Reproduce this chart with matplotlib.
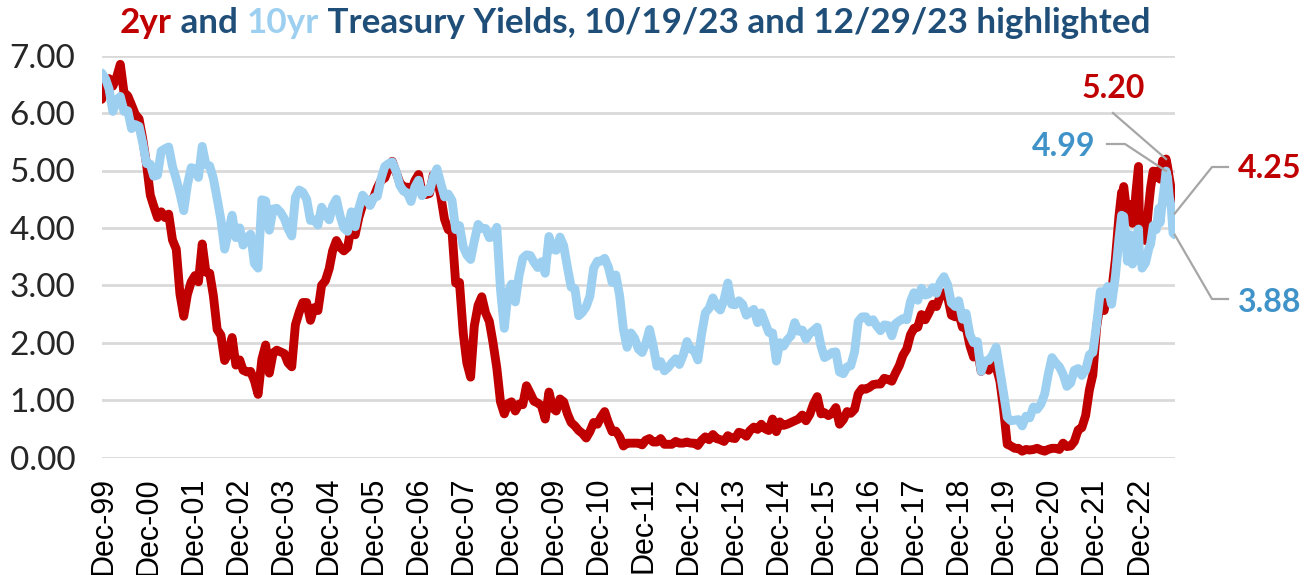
import numpy as np
import pandas as pd
import matplotlib
matplotlib.use('Agg')
import matplotlib.pyplot as plt
import matplotlib.dates as mdates
from matplotlib.lines import Line2D

# ---------------- data ----------------
# month-end observations Dec-1999 .. Sep-2022
try:
    monthly_dates = pd.date_range('1999-12-31', '2022-09-30', freq='ME')
except Exception:
    monthly_dates = pd.date_range('1999-12-31', '2022-09-30', freq='M')

yr2_monthly = [
    6.24,
    6.58, 6.60, 6.47, 6.62, 6.85, 6.36, 6.30, 6.14, 5.98, 5.90, 5.55, 5.11,   # 2000
    4.57, 4.38, 4.18, 4.28, 4.18, 4.24, 3.79, 3.63, 2.85, 2.46, 2.84, 3.06,   # 2001
    3.17, 3.06, 3.72, 3.23, 3.21, 2.82, 2.23, 2.13, 1.69, 1.82, 2.09, 1.61,   # 2002
    1.70, 1.52, 1.49, 1.50, 1.34, 1.10, 1.71, 1.96, 1.47, 1.82, 1.87, 1.84,   # 2003
    1.81, 1.65, 1.58, 2.31, 2.53, 2.70, 2.70, 2.39, 2.61, 2.56, 3.00, 3.08,   # 2004
    3.29, 3.60, 3.78, 3.66, 3.60, 3.66, 4.02, 3.88, 4.18, 4.40, 4.43, 4.41,   # 2005
    4.54, 4.70, 4.83, 4.87, 5.04, 5.16, 4.97, 4.79, 4.71, 4.71, 4.62, 4.82,   # 2006
    4.93, 4.62, 4.58, 4.60, 4.92, 4.87, 4.56, 4.15, 3.97, 3.94, 3.04, 3.05,   # 2007
    2.16, 1.65, 1.40, 2.29, 2.65, 2.80, 2.52, 2.37, 2.00, 1.56, 0.97, 0.76,   # 2008
    0.94, 0.97, 0.81, 0.93, 0.92, 1.25, 1.12, 0.98, 0.95, 0.90, 0.67, 1.14,   # 2009
    0.86, 0.81, 1.02, 0.97, 0.76, 0.61, 0.55, 0.47, 0.42, 0.34, 0.45, 0.61,   # 2010
    0.58, 0.70, 0.80, 0.61, 0.45, 0.46, 0.36, 0.20, 0.25, 0.25, 0.25, 0.25,   # 2011
    0.22, 0.30, 0.33, 0.27, 0.27, 0.33, 0.23, 0.23, 0.23, 0.28, 0.25, 0.25,   # 2012
    0.27, 0.25, 0.25, 0.21, 0.30, 0.36, 0.31, 0.40, 0.33, 0.31, 0.28, 0.38,   # 2013
    0.34, 0.33, 0.44, 0.42, 0.37, 0.47, 0.53, 0.49, 0.58, 0.50, 0.47, 0.67,   # 2014
    0.45, 0.62, 0.56, 0.58, 0.61, 0.64, 0.67, 0.74, 0.64, 0.75, 0.93, 1.06,   # 2015
    0.76, 0.78, 0.73, 0.77, 0.87, 0.58, 0.66, 0.80, 0.77, 0.84, 1.11, 1.20,   # 2016
    1.19, 1.22, 1.27, 1.28, 1.28, 1.38, 1.36, 1.33, 1.47, 1.60, 1.78, 1.89,   # 2017
    2.14, 2.25, 2.27, 2.49, 2.40, 2.52, 2.67, 2.63, 2.81, 2.87, 2.80, 2.48,   # 2018
    2.45, 2.52, 2.27, 2.27, 1.95, 1.75, 1.89, 1.50, 1.63, 1.52, 1.61, 1.58,   # 2019
    1.33, 0.86, 0.23, 0.20, 0.16, 0.16, 0.11, 0.14, 0.13, 0.14, 0.16, 0.13,   # 2020
    0.11, 0.14, 0.16, 0.16, 0.14, 0.25, 0.19, 0.20, 0.28, 0.48, 0.52, 0.73,   # 2021
    1.18, 1.44, 2.28, 2.70, 2.56, 2.92, 2.88, 3.45, 4.22,                     # 2022
]

yr10_monthly = [
    6.70,
    6.60, 6.42, 6.03, 6.23, 6.29, 6.03, 6.04, 5.73, 5.80, 5.77, 5.48, 5.12,   # 2000
    5.11, 4.90, 4.92, 5.34, 5.38, 5.41, 5.07, 4.85, 4.60, 4.30, 4.75, 5.05,   # 2001
    5.03, 4.88, 5.42, 5.10, 5.08, 4.86, 4.51, 4.14, 3.63, 3.93, 4.22, 3.83,   # 2002
    4.00, 3.70, 3.83, 3.89, 3.38, 3.30, 4.49, 4.47, 3.96, 4.33, 4.34, 4.27,   # 2003
    4.16, 3.99, 3.86, 4.53, 4.66, 4.62, 4.50, 4.13, 4.14, 4.05, 4.36, 4.24,   # 2004
    4.14, 4.38, 4.50, 4.21, 4.00, 3.94, 4.28, 4.02, 4.34, 4.57, 4.49, 4.39,   # 2005
    4.53, 4.55, 4.86, 5.07, 5.12, 5.15, 4.99, 4.74, 4.64, 4.61, 4.46, 4.71,   # 2006
    4.83, 4.56, 4.65, 4.63, 4.89, 5.03, 4.78, 4.54, 4.59, 4.48, 3.97, 4.04,   # 2007
    3.67, 3.53, 3.45, 3.77, 4.06, 3.99, 3.99, 3.83, 3.85, 4.01, 2.93, 2.25,   # 2008
    2.87, 3.02, 2.71, 3.16, 3.47, 3.53, 3.52, 3.40, 3.31, 3.41, 3.21, 3.85,   # 2009
    3.63, 3.61, 3.84, 3.69, 3.31, 2.97, 2.94, 2.47, 2.53, 2.63, 2.81, 3.30,   # 2010
    3.42, 3.42, 3.47, 3.32, 3.05, 3.18, 2.82, 2.23, 1.92, 2.17, 2.08, 1.89,   # 2011
    1.83, 1.98, 2.23, 1.95, 1.59, 1.67, 1.51, 1.57, 1.65, 1.72, 1.62, 1.78,   # 2012
    2.02, 1.89, 1.87, 1.70, 2.16, 2.52, 2.60, 2.78, 2.64, 2.57, 2.75, 3.04,   # 2013
    2.67, 2.66, 2.73, 2.67, 2.48, 2.53, 2.58, 2.35, 2.52, 2.35, 2.18, 2.17,   # 2014
    1.68, 2.00, 1.94, 2.05, 2.12, 2.35, 2.20, 2.22, 2.06, 2.16, 2.21, 2.27,   # 2015
    1.94, 1.74, 1.78, 1.83, 1.84, 1.49, 1.46, 1.58, 1.60, 1.84, 2.37, 2.45,   # 2016
    2.45, 2.36, 2.40, 2.29, 2.21, 2.31, 2.30, 2.12, 2.33, 2.38, 2.42, 2.40,   # 2017
    2.72, 2.87, 2.74, 2.95, 2.83, 2.85, 2.96, 2.86, 3.05, 3.15, 3.01, 2.69,   # 2018
    2.63, 2.73, 2.41, 2.51, 2.14, 2.00, 2.02, 1.50, 1.68, 1.69, 1.78, 1.92,   # 2019
    1.51, 1.13, 0.70, 0.64, 0.65, 0.66, 0.55, 0.72, 0.69, 0.88, 0.84, 0.93,   # 2020
    1.11, 1.44, 1.74, 1.65, 1.58, 1.45, 1.24, 1.30, 1.52, 1.55, 1.43, 1.52,   # 2021
    1.79, 1.83, 2.32, 2.89, 2.85, 2.98, 2.67, 3.15, 3.83,                     # 2022
]

# finer observations Oct-2022 .. 29-Dec-2023
tail_dates = ['2022-10-21', '2022-10-31', '2022-11-07', '2022-11-30', '2022-12-07',
              '2022-12-30', '2023-01-18', '2023-01-31', '2023-02-15', '2023-03-08',
              '2023-03-17', '2023-03-31', '2023-04-06', '2023-05-04', '2023-05-31',
              '2023-06-15', '2023-07-06', '2023-07-31', '2023-08-21', '2023-08-31',
              '2023-09-21', '2023-10-05', '2023-10-19', '2023-10-31', '2023-11-15',
              '2023-11-30', '2023-12-15', '2023-12-29']
yr2_tail = [4.62, 4.48, 4.72, 4.31, 4.30, 4.41, 4.08, 4.21, 4.62, 5.07, 3.84, 4.03,
            3.82, 3.78, 4.40, 4.70, 4.99, 4.88, 5.00, 4.85, 5.17, 5.05, 5.20, 5.07,
            4.86, 4.68, 4.45, 4.25]
yr10_tail = [4.22, 4.10, 4.20, 3.68, 3.42, 3.88, 3.37, 3.52, 3.81, 3.98, 3.43, 3.48,
             3.30, 3.39, 3.64, 3.72, 4.04, 3.97, 4.34, 4.09, 4.49, 4.72, 4.99, 4.88,
             4.53, 4.37, 3.91, 3.88]

tick_labels = ['Dec-99', 'Dec-00', 'Dec-01', 'Dec-02', 'Dec-03', 'Dec-04', 'Dec-05',
               'Dec-06', 'Dec-07', 'Dec-08', 'Dec-09', 'Dec-10', 'Dec-11', 'Dec-12',
               'Dec-13', 'Dec-14', 'Dec-15', 'Dec-16', 'Dec-17', 'Dec-18', 'Dec-19',
               'Dec-20', 'Dec-21', 'Dec-22']
yticks = [0, 1, 2, 3, 4, 5, 6, 7]

highlight_dates = ['2023-10-19', '2023-12-29']
highlight_2yr = [5.20, 4.25]
highlight_10yr = [4.99, 3.88]

# ---------------- build series ----------------
dates = list(monthly_dates) + list(pd.to_datetime(tail_dates))
x = mdates.date2num(dates)
y2 = np.array(yr2_monthly + yr2_tail)
y10 = np.array(yr10_monthly + yr10_tail)

# ---------------- style ----------------
RED = '#C00000'
LBLUE = '#9DD0F0'
NAVY = '#1F4E79'
MBLUE = '#3F93C8'
GRID = '#D9D9D9'
LEAD = '#A6A6A6'

W, H = 1314, 575
fig = plt.figure(figsize=(W / 100, H / 100), dpi=100)
fig.patch.set_facecolor('white')

def px_to_fig(px, py):
    return px / W, 1 - py / H

ax_left, ax_right = 101.7, 1175.0
ax_top, ax_bot = 55.7, 457.5
ax = fig.add_axes([ax_left / W, 1 - ax_bot / H, (ax_right - ax_left) / W, (ax_bot - ax_top) / H])

x0 = mdates.date2num(pd.Timestamp('1999-12-31'))
x1 = mdates.date2num(pd.Timestamp('2023-12-31'))
ax.set_xlim(x0, x1)
ax.set_ylim(0, 7)

ax.plot(x, y2, color=RED, lw=6.4, solid_capstyle='round', solid_joinstyle='round', zorder=3)
ax.plot(x, y10, color=LBLUE, lw=6.4, solid_capstyle='round', solid_joinstyle='round', zorder=4)

for s in ax.spines.values():
    s.set_visible(False)
ax.set_yticks(yticks)
ax.set_yticklabels([f'{v:.2f}' for v in yticks])
ax.yaxis.grid(True, color=GRID, lw=2.0)
ax.set_axisbelow(True)
ax.tick_params(axis='y', length=0, pad=19, labelsize=24, labelcolor='#262626')
for lab in ax.get_yticklabels():
    lab.set_fontfamily('Lato')

# x ticks: positions as they appear in the picture
px_per_day = (ax_right - ax_left) / (x1 - x0)
first_tick = x0 + (103.0 - ax_left) / px_per_day
last_tick = x0 + (1139.0 - ax_left) / px_per_day
ax.set_xticks(np.linspace(first_tick, last_tick, len(tick_labels)))
ax.set_xticklabels(tick_labels, rotation=90, va='top', ha='center',
                   fontfamily='Liberation Sans', fontsize=22, color='black')
ax.tick_params(axis='x', length=0, pad=14)

# ---------------- title ----------------
renderer = fig.canvas.get_renderer()
parts = [('2yr', RED), (' and ', NAVY), ('10yr', LBLUE),
         (' Treasury Yields, 10/19/23 and 12/29/23 highlighted', NAVY)]
title_left, title_right, title_cy = 120, 1150, 23
fs = 24
texts = []
for s, c in parts:
    t = fig.text(0, 0, s, color=c, fontsize=fs, fontweight='bold', fontfamily='Lato',
                 va='center', ha='left')
    texts.append(t)
widths = [t.get_window_extent(renderer).width for t in texts]
scale = (title_right - title_left) / sum(widths)
fs2 = fs * scale
for t in texts:
    t.set_fontsize(fs2)
widths = [t.get_window_extent(renderer).width for t in texts]
cur = title_left
for t, w in zip(texts, widths):
    t.set_position(px_to_fig(cur, title_cy))
    cur += w

# ---------------- annotations ----------------
def data_to_px(xd, yd):
    dx, dy = ax.transData.transform((xd, yd))
    return dx, H - dy

hx = mdates.date2num(pd.to_datetime(highlight_dates))
ann = [
    (f'{highlight_2yr[0]:.2f}', RED, (1113, 89), [(1113, 113)], (hx[0], highlight_2yr[0])),
    (f'{highlight_10yr[0]:.2f}', MBLUE, (1064, 146), [(1107, 144), (1125, 144)], (hx[0], highlight_10yr[0])),
    (f'{highlight_2yr[1]:.2f}', RED, (1270, 169), [(1228, 167), (1212, 167)], (hx[1], highlight_2yr[1])),
    (f'{highlight_10yr[1]:.2f}', MBLUE, (1270, 302), [(1228, 299), (1212, 299)], (hx[1], highlight_10yr[1])),
]
for label, col, (tx, ty), path, (xd, yd) in ann:
    fig.text(*px_to_fig(tx, ty), label, color=col, fontsize=23, fontweight='bold',
             fontfamily='Lato', ha='center', va='center')
    px, py = data_to_px(xd, yd)
    pts = path + [(px, py)]
    xs = [p[0] / W for p in pts]
    ys = [1 - p[1] / H for p in pts]
    fig.add_artist(Line2D(xs, ys, color=LEAD, lw=1.6, transform=fig.transFigure, zorder=2))

fig.savefig('out.png', dpi=100, facecolor='white')
